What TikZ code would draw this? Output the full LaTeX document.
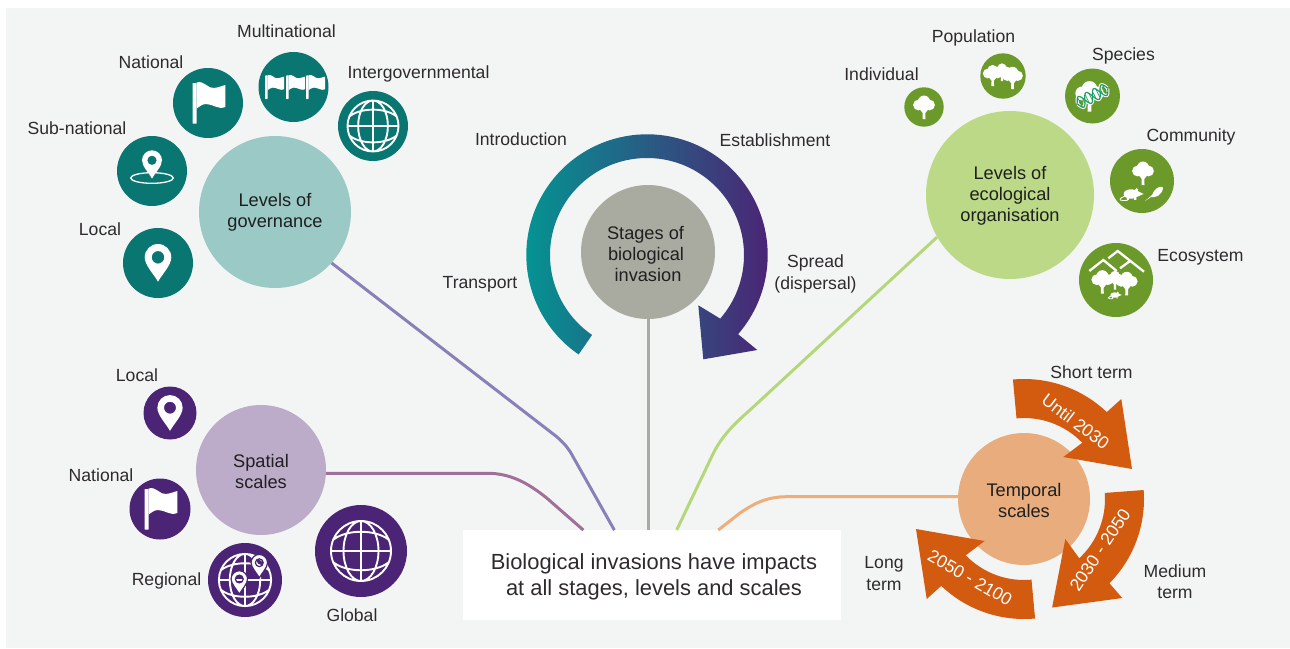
\documentclass[tikz,border=0pt]{standalone}
\usepackage{fontspec}
\setmainfont{Liberation Sans}
\definecolor{panelcol}{HTML}{F3F5F4}
\definecolor{inkcol}{HTML}{2F2A2E}
\definecolor{govcol}{HTML}{9AC9C6}
\definecolor{govdark}{HTML}{0A7672}
\definecolor{govlink}{HTML}{8A80B8}
\definecolor{ecocol}{HTML}{BBD986}
\definecolor{ecodark}{HTML}{6B9A2A}
\definecolor{ecolink}{HTML}{B4D77C}
\definecolor{spacol}{HTML}{BDACC9}
\definecolor{spadark}{HTML}{4C2475}
\definecolor{spalink}{HTML}{A0709A}
\definecolor{tempcol}{HTML}{E9AC7C}
\definecolor{tempdark}{HTML}{D35B10}
\definecolor{templink}{HTML}{EEAE7A}
\definecolor{stagecol}{HTML}{AAABA0}
\definecolor{ringleft}{HTML}{009A94}
\definecolor{ringmid}{HTML}{24688C}
\definecolor{dnacol}{HTML}{1F9E63}
\tikzset{
    label text/.style={font=\fontsize{17.6}{21.5}\selectfont, text=inkcol, align=center, inner sep=0pt},
    hub/.style={circle, inner sep=0pt, minimum size=#1, align=center, text=black!88, text depth=0pt,
        font=\fontsize{18.2}{21}\selectfont},
    badge/.style={circle, inner sep=0pt, minimum size=#1},
    link/.style={line width=3pt},
    iconfill/.style={fill=white},
    pics/pin/.style={code={
        \path[iconfill, even odd rule] (0,24.4) .. controls (-4,17) and (-13.3,8) .. (-13.3,0)
            arc (180:360:13.3) .. controls (13.3,8) and (4,17) .. (0,24.4) -- cycle
            (0,0) circle (6.3);
    }},
    pics/flag/.style={code={
        \fill[white, rounded corners=.5pt] (-15.3,-20) rectangle (-11.3,20.7);
        \fill[white] (-11.3,-20.5) .. controls (-4,-23) and (0,-14) .. (6,-15)
            .. controls (10,-15.5) and (14,-17) .. (17.3,-18) -- (17.3,4)
            .. controls (10,7) and (5,1) .. (-2,1) .. controls (-6,1) and (-9,4) .. (-11.3,5.5) -- cycle;
    }},
    pics/globe/.style={code={
        \draw[white, line width=1.9pt] (0,0) circle (30) (0,-30) -- (0,30) (-30,0) -- (30,0)
            (0,0) ellipse (17.5 and 30)
            (-28,-11) .. controls (-15,-22) and (15,-22) .. (28,-11)
            (-28,11) .. controls (-15,22) and (15,22) .. (28,11);
    }},
    pics/tree/.style={code={
        \fill[white] (0,-5.5) circle (6) (-5.5,-2) circle (5.4) (5.5,-2) circle (5.4) (0,-1) circle (4.5);
        \fill[white] (-4.5,2) -- (-1.3,6) -- (-1.5,12) -- (1.5,12) -- (1.3,6) -- (4.5,2) -- cycle;
    }},
    pics/rat/.style={code={
        \fill[white] (0,0) ellipse (7 and 4.5) (5,-3.5) -- (12,0) -- (5,3) -- cycle (5.5,-4) circle (1.6);
        \fill[white] (-4,3) rectangle (-2,5.5) (3,2) rectangle (5,5.5);
        \draw[white, line width=.8pt] (-6,2) .. controls (-11,4) and (-12,6) .. (-8,6.2) -- (-3,6);
    }},
    pics/bird/.style={code={
        \fill[white] (-9,7) -- (-2,1) .. controls (0,-5) and (5,-8) .. (8,-7) -- (9,-6)
            .. controls (8,1) and (2,4) .. (-3,3) -- cycle;
    }},
    pics/timearrow/.style={code={
        \fill[tempdark] (264.7:120) arc (264.7:313.6:120) -- (97.3,-100) -- (108,-30) -- (39.3,-42)
            -- (316:81) arc (316:264.7:81) -- cycle;
    }}
}

\begin{document}
\begin{tikzpicture}[x=1pt, y=-1pt]
    \useasboundingbox (0,0) rectangle (1290,648);
    \fill[panelcol] (6,8) rectangle (1290,648);

    % the five hubs and the box in the middle
    \node (gov) [hub=152pt, fill=govcol, text height=30.5pt] at (275,212) {Levels of\\governance};
    \node (eco) [hub=168pt, fill=ecocol, text height=52pt] at (1010,195) {Levels of\\ecological\\organisation};
    \node (spa) [hub=130pt, fill=spacol, text height=37.5pt] at (261,470) {Spatial\\scales};
    \node (temp) [hub=132pt, fill=tempcol, text height=36.5pt] at (1024,499) {Temporal\\scales};
    \node (stage) [hub=134pt, fill=stagecol, text height=58pt] at (648,252) {\hspace*{-5pt}Stages of\\\hspace*{-4pt}biological\\invasion};
    \node (msg) [fill=white, minimum width=378pt, minimum height=90pt, inner sep=0pt, align=center,
        font=\fontsize{21.9}{25.5}\selectfont, text=inkcol, text height=40pt, text depth=0pt]
        at (651.7,575) {\hspace*{4.5pt}Biological invasions have impacts\\\hspace*{4.5pt}at all stages, levels and scales};

    \draw[link, color=govlink] (gov.-42.5) -- (556.7,436.7)
        .. controls (565,444) and (569,449) .. (573,456.7) -- (614.3,530) -- (msg);
    \draw[link, color=spalink] (spa.-3.5) -- (486.7,473.3)
        .. controls (510,473) and (528,483) .. (546.7,498) -- (583.3,530) -- (msg);
    \draw[link, color=stagecol] (stage.south) -- (stage.south |- msg.north);
    \draw[link, color=ecolink] (eco.210.8) -- (750,410)
        .. controls (734,424) and (722,436) .. (713.3,453.3) -- (676.7,530) -- (msg);
    \draw[link, color=templink] (temp.178) -- (786.7,496.7)
        .. controls (765,496.7) and (752,505) .. (740,513) -- (718.3,530) -- (msg);

    % governance
    \node (govlocal) [badge=70pt, fill=govdark] at (158,263) {};
    \node (govsub) [badge=70pt, fill=govdark] at (152,171) {};
    \node (govnat) [badge=70pt, fill=govdark] at (208,103) {};
    \node (govmulti) [badge=70pt, fill=govdark] at (293.5,87) {};
    \node (govinter) [badge=70pt, fill=govdark] at (373,126) {};
    \pic[shift={(0,-5.7)}] at (govlocal) {pin};
    \pic[shift={(0,-10.7)}, scale=.75] at (govsub) {pin};
    \draw[white, line width=1.3pt] (govsub) ++(0,7) ellipse (21.3 and 5.3);
    \pic at (govnat) {flag};
    \pic[shift={(-19.4,0)}, scale=.58] at (govmulti) {flag};
    \pic[shift={(1.6,0)}, scale=.58] at (govmulti) {flag};
    \pic[shift={(21.6,0)}, scale=.58] at (govmulti) {flag};
    \pic[scale=.85] at (govinter) {globe};
    \node (lgovlocal) [label text] at (100,229) {Local};
    \node (lgovsub) [label text] at (77,128) {Sub-national};
    \node (lgovnat) [label text] at (151,62) {National};
    \node (lgovmulti) [label text] at (286.5,31.5) {Multinational};
    \node (lgovinter) [label text] at (418.5,74) {Intergovernmental};

    % ecology
    \node (ecoind) [badge=39.4pt, fill=ecodark] at (924,107) {};
    \node (ecopop) [badge=45.4pt, fill=ecodark] at (1003,76) {};
    \node (ecospe) [badge=55pt, fill=ecodark] at (1092.5,96) {};
    \node (ecocom) [badge=64pt, fill=ecodark] at (1142,181) {};
    \node (ecosys) [badge=74pt, fill=ecodark] at (1116,280) {};
    \pic at (ecoind) {tree};
    \pic[shift={(-1,-4)}, scale=.75] at (ecopop) {tree};
    \pic[shift={(-10.3,-.7)}, scale=.9] at (ecopop) {tree};
    \pic[shift={(9.5,1.7)}, scale=.95] at (ecopop) {tree};
    \pic[shift={(-3,0)}, scale=1.3] at (ecospe) {tree};
    \begin{scope}[shift={(ecospe)}, rotate=27]
        \draw[white, line width=3.2pt] plot[domain=-17:17, samples=40] (\x,{6*sin(\x*21)});
        \draw[white, line width=3.2pt] plot[domain=-17:17, samples=40] (\x,{-6*sin(\x*21)});
        \draw[dnacol, line width=1.2pt] plot[domain=-17:17, samples=40] (\x,{6*sin(\x*21)});
        \draw[dnacol, line width=1.2pt] plot[domain=-17:17, samples=40] (\x,{-6*sin(\x*21)});
        \foreach \r in {-14,-10,-6,-2,2,6,10,14}
            \draw[dnacol, line width=.7pt] (\r,{-5.5*sin(\r*21)}) -- (\r,{5.5*sin(\r*21)});
    \end{scope}
    \pic[shift={(1,-8)}] at (ecocom) {tree};
    \pic[shift={(-11,13)}, scale=1.05] at (ecocom) {rat};
    \pic[shift={(12,13)}] at (ecocom) {bird};
    \draw[white, line width=2.3pt] (ecosys) ++(-26.7,-9) -- ++(14,-11) -- ++(13.4,11);
    \draw[white, line width=2.3pt] (ecosys) ++(-7.7,-21.7) -- ++(9.4,-7.3) -- ++(26.3,20.7);
    \draw[white, line width=2.3pt] (ecosys) ++(4,-11.7) -- ++(10,-7.3);
    \pic[shift={(-1,0)}, scale=.8] at (ecosys) {tree};
    \pic[shift={(-13.7,1.7)}] at (ecosys) {tree};
    \pic[shift={(10.7,3.3)}] at (ecosys) {tree};
    \pic[shift={(-1.5,15)}, scale=.6] at (ecosys) {rat};
    \node (lecoind) [label text] at (881.5,74) {Individual};
    \node (lecopop) [label text] at (973.5,38) {Population};
    \node (lecospe) [label text] at (1123.5,55.5) {Species};
    \node (lecocom) [label text] at (1191,137) {Community};
    \node (lecosys) [label text] at (1200.5,257) {Ecosystem};

    % spatial scales
    \node (spalocal) [badge=53pt, fill=spadark] at (170,413) {};
    \node (spanat) [badge=61pt, fill=spadark] at (160,509) {};
    \node (spareg) [badge=74pt, fill=spadark] at (245,580) {};
    \node (spaglob) [badge=92pt, fill=spadark] at (361,551) {};
    \pic[shift={(0,-5.3)}, scale=.95] at (spalocal) {pin};
    \pic at (spanat) {flag};
    \pic[scale=.87] at (spareg) {globe};
    \pic[shift={(-5.7,-1)}, scale=.62, iconfill/.style={fill=white, draw=spadark, line width=1.2pt}] at (spareg) {pin};
    \pic[shift={(14.3,-17.3)}, scale=.62, iconfill/.style={fill=white, draw=spadark, line width=1.2pt}] at (spareg) {pin};
    \pic[scale=1] at (spaglob) {globe};
    \node (lspalocal) [label text] at (137,375) {Local};
    \node (lspanat) [label text] at (101,475.5) {National};
    \node (lspareg) [label text] at (166.5,580.5) {Regional};
    \node (lspaglob) [label text] at (352,615.5) {Global};

    % stages, one path so the shading runs over the whole arrow
    \path[left color=ringleft, middle color=ringmid, right color=spadark, shift={(647,255)}]
        (124.5:120.7) arc (124.5:401:120.7) -- (110.3,95) -- (56.3,104.3) -- (51.3,50.3)
        -- (401:97) arc (401:124.5:97) -- cycle;
    \node (lintro) [label text] at (521,139.5) {Introduction};
    \node (lestab) [label text] at (775,140) {Establishment};
    \node (ltrans) [label text] at (480,284.5) {Transport};
    \node (lspread) [label text] at (815.5,274) {Spread\\(dispersal)};

    % time arrows
    \pic at (temp) {timearrow};
    \pic[rotate=-91] at (temp) {timearrow};
    \pic[rotate=-180] at (temp) {timearrow};
    \node (tshort) [label text, text=white, rotate=-37] at (1075.7,421.7) {Until 2030};
    \node (tmed) [label text, text=white, rotate=56] at (1100,550) {2030 - 2050};
    \node (tlong) [label text, text=white, rotate=-30] at (970,578) {2050 - 2100};
    \node (lshort) [label text] at (1091.5,372) {Short term};
    \node (lmed) [label text] at (1175,581.5) {Medium\\term};
    \node (llong) [label text] at (884,573.5) {Long\\term};
\end{tikzpicture}
\end{document}
